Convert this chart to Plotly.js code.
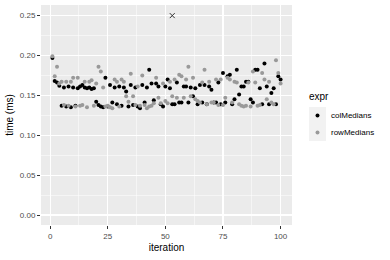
<!DOCTYPE html>
<html>
<head>
<meta charset="utf-8">
<script src="https://cdn.plot.ly/plotly-3.0.1.min.js"></script>
<style>html,body{margin:0;padding:0;background:#fff;}#chart{width:390px;height:260px;}</style>
</head>
<body>
<div id="chart"></div>
<script>
const seriesNames = ["colMedians", "rowMedians"];
const colMedians = [
0.197,0.168,0.166,0.162,0.137,0.160,0.136,0.161,0.135,0.160,
0.137,0.159,0.161,0.163,0.160,0.159,0.160,0.158,0.159,0.142,
0.138,0.136,0.135,0.172,0.136,0.163,0.141,0.160,0.139,0.161,
0.137,0.160,0.155,0.136,0.163,0.138,0.160,0.136,0.134,0.163,
0.141,0.160,0.182,0.165,0.144,0.165,0.161,0.139,0.136,0.161,
0.170,0.159,0.139,0.139,0.166,0.141,0.141,0.161,0.161,0.141,
0.160,0.149,0.159,0.139,0.163,0.141,0.163,0.139,0.161,0.157,
0.141,0.141,0.166,0.139,0.178,0.141,0.174,0.176,0.139,0.145,
0.182,0.151,0.161,0.161,0.167,0.167,0.145,0.141,0.182,0.182,
0.159,0.139,0.190,0.161,0.139,0.153,0.159,0.139,0.174,0.170];
const rowMedians = [
0.199,0.174,0.186,0.165,0.167,0.138,0.167,0.137,0.167,0.172,
0.136,0.172,0.137,0.138,0.167,0.135,0.167,0.169,0.137,0.165,
0.186,0.180,0.160,0.136,0.137,0.135,0.134,0.170,0.167,0.136,
0.170,0.167,0.149,0.142,0.177,0.149,0.138,0.161,0.137,0.175,
0.138,0.134,0.136,0.137,0.140,0.172,0.147,0.140,0.165,0.143,
0.140,0.167,0.149,0.170,0.147,0.176,0.174,0.147,0.170,0.186,
0.149,0.172,0.145,0.143,0.141,0.166,0.182,0.139,0.167,0.141,
0.141,0.170,0.138,0.170,0.138,0.147,0.172,0.170,0.141,0.167,
0.166,0.139,0.137,0.136,0.137,0.166,0.136,0.180,0.166,0.137,
0.138,0.178,0.170,0.145,0.167,0.141,0.139,0.194,0.178,0.165];
const outlierIter = [53];
const outlierTime = [0.250];
const xTicks = [0, 25, 50, 75, 100];
const yTicks = [0.00, 0.05, 0.10, 0.15, 0.20, 0.25];
const yTickText = ["0.00", "0.05", "0.10", "0.15", "0.20", "0.25"];

const iter = colMedians.map((_, i) => i + 1);
const colors = ["#000000", "#999999"];

const traces = [
  {x: iter, y: colMedians, name: seriesNames[0], type: "scatter", mode: "markers",
   marker: {color: colors[0], size: 4}, showlegend: false, hoverinfo: "skip"},
  {x: iter, y: rowMedians, name: seriesNames[1], type: "scatter", mode: "markers",
   marker: {color: colors[1], size: 4}, showlegend: false, hoverinfo: "skip"},
  {x: outlierIter, y: outlierTime, type: "scatter", mode: "markers",
   marker: {symbol: "x-thin", size: 5, line: {color: "#333333", width: 1}}, showlegend: false, hoverinfo: "skip"}
];

const L = 41, R = 292, T = 5, B = 225;
const W = R - L, H = B - T;
const px = v => (v - L) / W;
const py = v => (B - v) / H;

const font = "Liberation Sans, Arial, sans-serif";
const shapes = [
  {type: "rect", xref: "paper", yref: "paper", x0: px(309), x1: px(326), y0: py(141), y1: py(107),
   fillcolor: "#F2F2F2", line: {width: 0}, layer: "below"}
];
const legendY = [115.5, 132.5];
legendY.forEach((yy, k) => {
  shapes.push({type: "circle", xref: "paper", yref: "paper", xsizemode: "pixel", ysizemode: "pixel",
    xanchor: px(317.5), yanchor: py(yy), x0: -2, x1: 2, y0: -2, y1: 2,
    fillcolor: colors[k], line: {width: 0}});
});
const annotations = [
  {xref: "paper", yref: "paper", x: px(307), y: py(96), text: "expr", showarrow: false,
   xanchor: "left", yanchor: "middle", font: {family: font, size: 10, color: "#000"}},
  {xref: "paper", yref: "paper", x: px(329), y: py(legendY[0]), text: seriesNames[0], showarrow: false,
   xanchor: "left", yanchor: "middle", font: {family: font, size: 8, color: "#000"}},
  {xref: "paper", yref: "paper", x: px(329), y: py(legendY[1]), text: seriesNames[1], showarrow: false,
   xanchor: "left", yanchor: "middle", font: {family: font, size: 8, color: "#000"}}
];

const layout = {
  width: 390, height: 260,
  margin: {l: L, r: 390 - R, t: T, b: 260 - B, pad: 0},
  paper_bgcolor: "#FFFFFF", plot_bgcolor: "#EBEBEB",
  font: {family: font, size: 8, color: "#4D4D4D"},
  showlegend: false,
  xaxis: {
    range: [-3.95, 104.95], tickmode: "array", tickvals: xTicks, ticktext: xTicks.map(String),
    ticks: "outside", ticklen: 3, tickwidth: 1, tickcolor: "#333333",
    showgrid: true, gridcolor: "#FFFFFF", gridwidth: 1.07, zeroline: false, showline: false,
    minor: {tickvals: [-12.5, 12.5, 37.5, 62.5, 87.5], showgrid: true, gridcolor: "#FFFFFF", gridwidth: 0.5, ticks: ""},
    tickfont: {family: font, size: 8, color: "#4D4D4D"},
    title: {text: "iteration", font: {family: font, size: 10, color: "#000"}, standoff: 4},
    automargin: false, fixedrange: true
  },
  yaxis: {
    range: [-0.0125, 0.2633], tickmode: "array", tickvals: yTicks, ticktext: yTickText,
    ticks: "outside", ticklen: 3, tickwidth: 1, tickcolor: "#333333",
    showgrid: true, gridcolor: "#FFFFFF", gridwidth: 1.07, zeroline: false, showline: false,
    minor: {tickvals: [0.025, 0.075, 0.125, 0.175, 0.225], showgrid: true, gridcolor: "#FFFFFF", gridwidth: 0.5, ticks: ""},
    tickfont: {family: font, size: 8, color: "#4D4D4D"},
    title: {text: "time (ms)", font: {family: font, size: 10, color: "#000"}, standoff: 4},
    automargin: false, fixedrange: true
  },
  shapes: shapes,
  annotations: annotations
};

Plotly.newPlot("chart", traces, layout, {displayModeBar: false, staticPlot: true});
</script>
</body>
</html>
